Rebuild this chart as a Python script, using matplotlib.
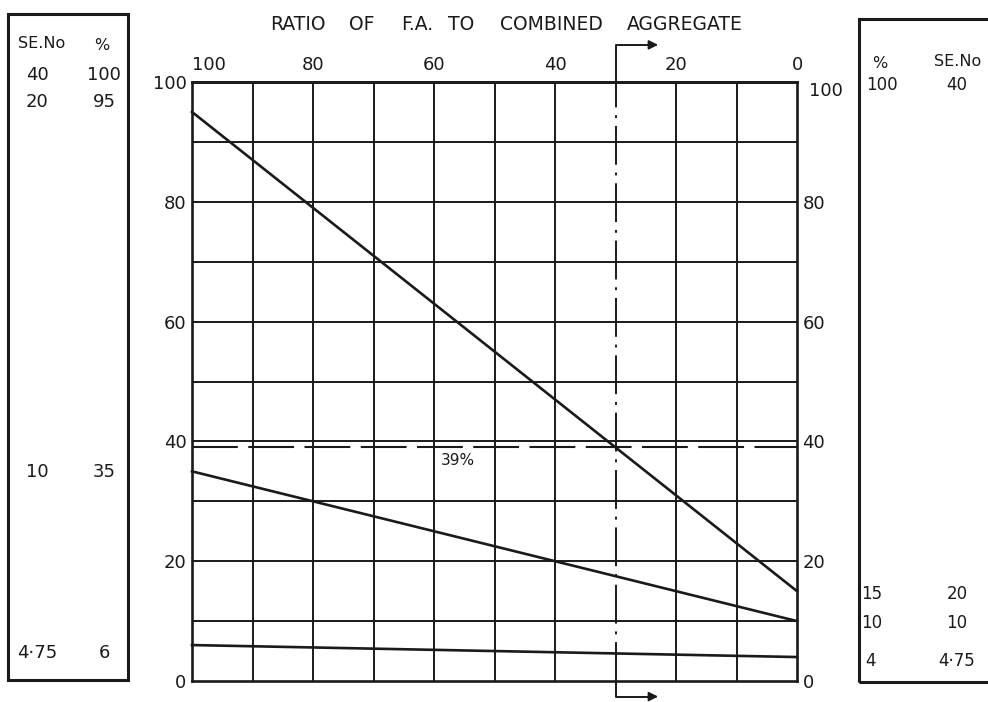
import matplotlib
matplotlib.use("Agg")
import matplotlib.pyplot as plt
from matplotlib.patches import Rectangle
from matplotlib.transforms import ScaledTranslation

# ---------------- data ----------------
ratio_ends = [100, 0]                      # ratio of F.A. to combined aggregate (%)
sieve_sizes = ["40", "20", "10", "4·75"]   # sieve numbers
fa_passing = [100, 95, 35, 6]              # fine aggregate % passing (ratio = 100)
ca_passing = [100, 15, 10, 4]              # coarse aggregate % passing (ratio = 0)
x_ticks = [100, 80, 60, 40, 20, 0]
y_ticks = [0, 20, 40, 60, 80, 100]
grid_x = [90, 80, 70, 60, 50, 40, 20, 10]
grid_y = [10, 20, 30, 40, 50, 60, 70, 80, 90]
target_passing = 39                        # required % passing 4.75 sieve
mix_ratio = 30                             # resulting ratio
target_label = "39%"
title_words = ["RATIO", "OF", "F.A.", "TO", "COMBINED", "AGGREGATE"]

W, H = 988, 702
fig = plt.figure(figsize=(W / 100, H / 100), dpi=100)
fig.patch.set_facecolor("white")
FONT = "DejaVu Sans"
INK = "#1a1a1a"


def fx(x):
    return x / W


def fy(y):
    return 1 - y / H


# main axes (pixel box 192..797 x, 82..681 y)
L, R, T, B = 192, 797, 82, 681
ax = fig.add_axes([fx(L), fy(B), (R - L) / W, (B - T) / H])
ax.set_xlim(100, 0)
ax.set_ylim(0, 100)

for s in ax.spines.values():
    s.set_linewidth(1.9)
    s.set_color(INK)

for gx in grid_x:
    ax.axvline(gx, color=INK, lw=1.4, zorder=1)
for gy in grid_y:
    ax.axhline(gy, color=INK, lw=1.4, zorder=1)

# required grading line and mix line
ax.axhline(target_passing, color=INK, lw=1.5, dashes=(22, 5), zorder=2)
ax.axvline(mix_ratio, color=INK, lw=1.4, dashes=(20, 4, 1.5, 4), zorder=2)
ax.text(56, target_passing - 2.2, target_label, ha="center", va="center",
        fontsize=11, family=FONT, color=INK)

# combined grading lines
for fa, ca in zip(fa_passing, ca_passing):
    ax.plot(ratio_ends, [fa, ca], color=INK, lw=1.9, zorder=3, clip_on=False)

# ticks
ax.tick_params(axis="both", length=0)
ax.set_yticks(y_ticks)
ax.set_yticklabels([str(v) for v in y_ticks], fontsize=13, family=FONT, color=INK)
ax.tick_params(axis="y", pad=4, labelleft=True, labelright=True)
ax.xaxis.tick_top()
ax.set_xticks(x_ticks)
ax.set_xticklabels([str(v) for v in x_ticks], fontsize=13, family=FONT, color=INK)
ax.tick_params(axis="x", pad=6)
fig.canvas.draw()
xl = ax.get_xticklabels()
xl[0].set_transform(xl[0].get_transform() + ScaledTranslation(0.17, 0, fig.dpi_scale_trans))
yr = [t.label2 for t in ax.yaxis.get_major_ticks()]
yr[-1].set_transform(yr[-1].get_transform() + ScaledTranslation(0.06, -0.07, fig.dpi_scale_trans))

# arrows marking the mix ratio
for yy in (106.2, -2.6):
    base = 100 if yy > 50 else 0
    ax.plot([mix_ratio, mix_ratio, 24.5], [base, yy, yy], color=INK, lw=1.4, clip_on=False)
    ax.annotate("", xy=(22.5, yy), xytext=(25, yy), xycoords="data",
                arrowprops=dict(arrowstyle="-|>", color=INK, lw=1.2, mutation_scale=14),
                annotation_clip=False)

# title (words spread like the hand lettering)
title_x = [298, 362, 417, 461, 551, 685]
for wd, tx in zip(title_words, title_x):
    fig.text(fx(tx), fy(24), wd, ha="center", va="center", fontsize=13.5,
             family=FONT, color=INK)

# side boxes
fig.add_artist(Rectangle((fx(8), fy(680)), (128 - 8) / W, (680 - 14) / H,
                         transform=fig.transFigure, fill=False, lw=2.2, ec=INK))
fig.add_artist(Rectangle((fx(859), fy(682)), (W + 10 - 859) / W, (682 - 19) / H,
                         transform=fig.transFigure, fill=False, lw=2.2, ec=INK,
                         clip_on=False))

# left box: sieve / fine aggregate %
fig.text(fx(42), fy(43), "SE.No", ha="center", va="center", fontsize=11.5, family=FONT, color=INK)
fig.text(fx(102), fy(45), "%", ha="center", va="center", fontsize=11.5, family=FONT, color=INK)
left_rows_y = [75, 102, 472, 653]
for sv, p, yy in zip(sieve_sizes, fa_passing, left_rows_y):
    fig.text(fx(37), fy(yy), sv, ha="center", va="center", fontsize=13, family=FONT, color=INK)
    fig.text(fx(104), fy(yy), str(p), ha="center", va="center", fontsize=13, family=FONT, color=INK)

# right box: coarse aggregate % / sieve
fig.text(fx(880), fy(63), "%", ha="center", va="center", fontsize=11.5, family=FONT, color=INK)
fig.text(fx(958), fy(62), "SE.No", ha="center", va="center", fontsize=11.5, family=FONT, color=INK)
right_rows_y = [85, 594, 623, 661]
right_x_pct = [882, 872, 872, 870]
for sv, p, yy, xp in zip(sieve_sizes, ca_passing, right_rows_y, right_x_pct):
    fig.text(fx(xp), fy(yy), str(p), ha="center", va="center", fontsize=12, family=FONT, color=INK)
    fig.text(fx(957), fy(yy), sv, ha="center", va="center", fontsize=12, family=FONT, color=INK)

fig.savefig("out.png", dpi=100, facecolor="white")
